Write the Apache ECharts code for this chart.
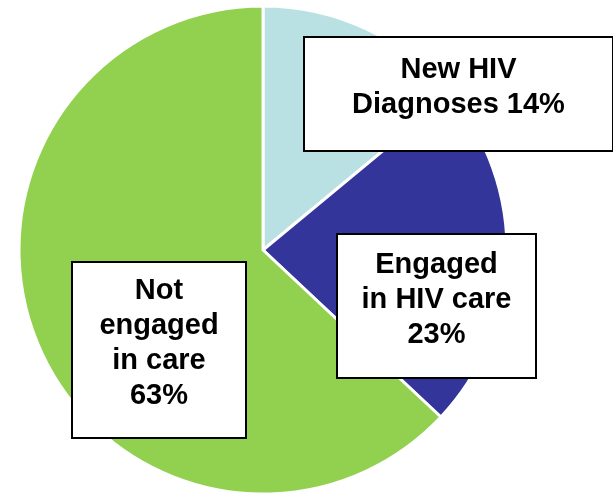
<!DOCTYPE html>
<html>
<head>
<meta charset="utf-8">
<script src="https://cdn.jsdelivr.net/npm/echarts@6/dist/echarts.min.js"></script>
<style>
html,body{margin:0;padding:0;background:#fff;}
#chart{width:613px;height:494px;}
</style>
</head>
<body>
<div id="chart"></div>
<script>
// Data
const categories = ['New HIV Diagnoses', 'Engaged in HIV care', 'Not engaged in care'];
const labelTexts = ['New HIV\nDiagnoses', 'Engaged\nin HIV care', 'Not\nengaged\nin care'];
const values = [14, 23, 63];
const colors = ['#b9e0e3', '#34359a', '#92d050'];

// Label box layout (left, top, width, height)
const boxes = [
  [305, 38, 307, 112],
  [338, 235, 197, 142],
  [73, 263, 172, 174]
];
const lineH = 35;

const seriesData = categories.map((name, i) => {
  const b = boxes[i];
  const lines = (i === 0 ? 2 : (i === 1 ? 3 : 4));
  const textH = lines * lineH;
  const extra = b[3] - textH;
  const padTop = Math.round(extra / 2 - 7);
  const padBottom = extra - padTop;
  return {
    name: name,
    value: values[i],
    itemStyle: { color: colors[i] },
    label: {
      width: b[2],
      padding: [padTop, 0, padBottom, 0]
    }
  };
});

const chart = echarts.init(document.getElementById('chart'), null, { renderer: 'canvas' });
chart.setOption({
  animation: false,
  series: [{
    type: 'pie',
    center: [263, 250],
    radius: 244,
    startAngle: 90,
    clockwise: true,
    data: seriesData,
    itemStyle: { borderColor: '#ffffff', borderWidth: 3 },
    labelLine: { show: false },
    emphasis: { disabled: true },
    label: {
      show: true,
      position: 'inside',
      formatter: function (p) {
        const t = labelTexts[p.dataIndex];
        return p.dataIndex === 0 ? t + ' ' + p.value + '%' : t + '\n' + p.value + '%';
      },
      fontFamily: 'Liberation Sans, Arial, sans-serif',
      fontWeight: 'bold',
      fontSize: 29,
      lineHeight: lineH,
      color: '#000',
      align: 'center',
      backgroundColor: '#ffffff',
      borderColor: '#000000',
      borderWidth: 2
    },
    labelLayout: function (params) {
      const b = boxes[params.dataIndex];
      return {
        x: b[0] + b[2] / 2,
        y: b[1],
        align: 'center',
        verticalAlign: 'top'
      };
    }
  }]
});
</script>
</body>
</html>
